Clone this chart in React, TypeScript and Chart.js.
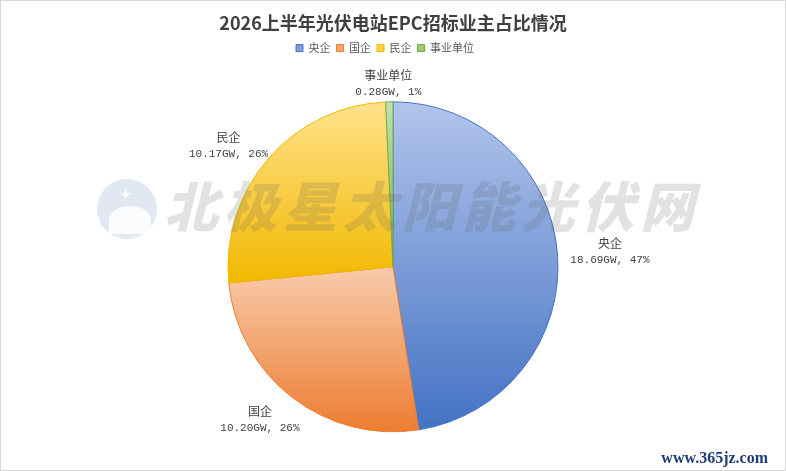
import React, { useEffect, useRef } from "react";
import { Chart, registerables } from "chart.js";

Chart.register(...registerables);

const titleText = "2026上半年光伏电站EPC招标业主占比情况";
const categories = ["央企", "国企", "民企", "事业单位"];
const capacityGW = [18.69, 10.2, 10.17, 0.28];
const percentLabels = [47, 26, 26, 1];
const colorsLight = ["#b2c5eb", "#f8cbab", "#ffe28c", "#c5e0b4"];
const colorsMid = ["#7f9ddb", "#f3a46e", "#fdd046", "#9bc97c"];
const colorsDark = ["#4472c4", "#ed7d31", "#f2b800", "#70ad47"];
const watermarkText = "北极星太阳能光伏网";
const siteText = "www.365jz.com";

const CAT_FONT = '12px "Noto Sans CJK SC", sans-serif';
const VAL_FONT = '11px "Liberation Mono", "Noto Sans CJK SC", monospace';

const gradientPlugin = {
  id: "sliceGradient",
  beforeDatasetsDraw(chart: any) {
    const ctx = chart.ctx;
    const meta = chart.getDatasetMeta(0);
    meta.data.forEach((arc: any, i: number) => {
      const p = arc.getProps(["x", "y", "startAngle", "endAngle", "outerRadius"], true);
      let minY = p.y;
      let maxY = p.y;
      const consider = (a: number) => {
        const yy = p.y + p.outerRadius * Math.sin(a);
        minY = Math.min(minY, yy);
        maxY = Math.max(maxY, yy);
      };
      consider(p.startAngle);
      consider(p.endAngle);
      for (let k = -4; k <= 8; k++) {
        const a = Math.PI / 2 + k * Math.PI;
        if (a > p.startAngle && a < p.endAngle) consider(a);
      }
      const g = ctx.createLinearGradient(0, minY, 0, maxY);
      g.addColorStop(0, colorsLight[i]);
      g.addColorStop(1, colorsDark[i]);
      arc.options = Object.assign({}, arc.options, { backgroundColor: g });
    });
  },
};

const legendShiftPlugin = {
  id: "legendShift",
  afterLayout(chart: any) {
    if (chart.legend) {
      chart.legend.left -= 8;
      chart.legend.right -= 8;
    }
  },
};

const labelPlugin = {
  id: "outerLabels",
  afterDatasetsDraw(chart: any) {
    const ctx = chart.ctx;
    const meta = chart.getDatasetMeta(0);
    ctx.save();
    ctx.textAlign = "center";
    ctx.textBaseline = "middle";
    ctx.fillStyle = "#404040";
    meta.data.forEach((arc: any, i: number) => {
      const p = arc.getProps(["x", "y", "startAngle", "endAngle", "outerRadius"], true);
      const mid = (p.startAngle + p.endAngle) / 2;
      const dx = Math.cos(mid);
      const dy = Math.sin(mid);
      const l1 = categories[i];
      const l2 = `${capacityGW[i].toFixed(2)}GW, ${percentLabels[i]}%`;
      ctx.font = CAT_FONT;
      const w1 = ctx.measureText(l1).width;
      ctx.font = VAL_FONT;
      const w2 = ctx.measureText(l2).width;
      const hw = Math.max(w1, w2) / 2;
      const hh = 14;
      const cx = p.x + (p.outerRadius + 13 + hw) * dx;
      const cy = p.y + (p.outerRadius + 10 + hh + 6 * dy) * dy;
      ctx.font = CAT_FONT;
      ctx.fillText(l1, cx, cy - 8.5);
      ctx.font = VAL_FONT;
      ctx.fillText(l2, cx, cy + 8.5);
    });
    ctx.restore();
  },
};

function PieChart() {
  const canvasRef = useRef<HTMLCanvasElement | null>(null);
  useEffect(() => {
    if (!canvasRef.current) return;
    const chart = new Chart(canvasRef.current, {
      type: "pie",
      data: {
        labels: categories,
        datasets: [
          {
            data: capacityGW,
            backgroundColor: colorsMid,
            borderColor: colorsDark,
            borderWidth: 1,
            radius: 165,
          } as any,
        ],
      },
      options: {
        animation: false,
        responsive: true,
        maintainAspectRatio: false,
        layout: { padding: { top: 3, bottom: -3, left: 0, right: 0 } },
        plugins: {
          title: {
            display: true,
            text: titleText,
            color: "#404040",
            font: { size: 18, weight: "bold", family: '"Noto Sans CJK SC", sans-serif' },
            padding: { top: 8, bottom: 3 },
          },
          legend: {
            display: true,
            position: "top",
            labels: {
              boxWidth: 7,
              boxHeight: 7,
              padding: 6,
              color: "#595959",
              font: { size: 11, family: '"Noto Sans CJK SC", sans-serif' },
              generateLabels: () =>
                categories.map((c, i) => ({
                  text: c,
                  fillStyle: colorsMid[i],
                  strokeStyle: colorsDark[i],
                  lineWidth: 1,
                  hidden: false,
                  index: i,
                  fontColor: "#595959",
                })),
            },
          },
          tooltip: { enabled: false },
        },
      },
      plugins: [gradientPlugin, legendShiftPlugin, labelPlugin],
    });
    return () => chart.destroy();
  }, []);
  return <canvas ref={canvasRef} />;
}

export default function App() {
  return (
    <div
      style={{
        position: "absolute",
        left: 0,
        top: 0,
        width: 786,
        height: 471,
        boxSizing: "border-box",
        border: "1px solid #d9d9d9",
        background: "#ffffff",
        overflow: "hidden",
      }}
    >
      <div style={{ position: "absolute", left: 0, top: 0, right: 0, bottom: 0 }}>
        <PieChart />
      </div>
      <div
        style={{
          position: "absolute",
          left: 96,
          top: 178,
          width: 60,
          height: 60,
          borderRadius: "50%",
          background: "rgba(120,150,195,0.22)",
          pointerEvents: "none",
        }}
      >
        <div
          style={{
            position: "absolute",
            left: 22,
            top: 8,
            color: "rgba(255,255,255,0.95)",
            fontSize: 16,
            fontFamily: '"DejaVu Sans", sans-serif',
            lineHeight: "16px",
          }}
        >
          ✦
        </div>
        <div
          style={{
            position: "absolute",
            left: 12,
            top: 27,
            width: 42,
            height: 28,
            borderRadius: "50% 50% 0 0",
            background: "rgba(255,255,255,0.85)",
          }}
        />
      </div>
      <div
        style={{
          position: "absolute",
          left: 163,
          top: 171,
          whiteSpace: "nowrap",
          fontFamily: '"Noto Sans CJK SC", sans-serif',
          fontWeight: 900,
          fontStyle: "italic",
          fontSize: 54,
          lineHeight: "64px",
          letterSpacing: 5.5,
          color: "rgba(95,95,95,0.18)",
          pointerEvents: "none",
        }}
      >
        {watermarkText}
      </div>
      <div
        style={{
          position: "absolute",
          right: 17,
          top: 448,
          whiteSpace: "nowrap",
          fontFamily: '"Liberation Serif", serif',
          fontWeight: "bold",
          fontSize: 16,
          color: "#1e3c78",
        }}
      >
        {siteText}
      </div>
    </div>
  );
}
